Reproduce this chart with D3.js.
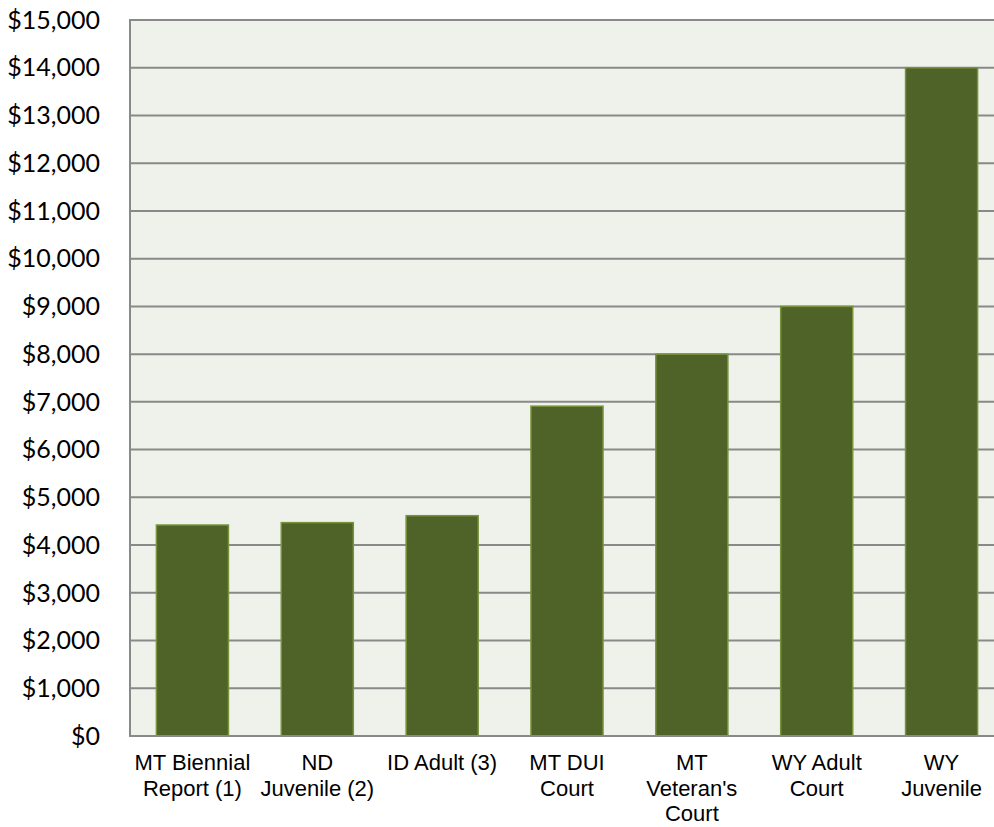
<!DOCTYPE html>
<html><head><meta charset="utf-8">
<script src="https://cdn.jsdelivr.net/npm/d3@7"></script>
<style>body{margin:0;background:#fff}</style>
</head><body>
<script>
const categories = [["MT Biennial","Report (1)"],["ND","Juvenile (2)"],["ID Adult (3)"],["MT DUI","Court"],["MT","Veteran's","Court"],["WY Adult","Court"],["WY","Juvenile"]];
const values = [4420, 4470, 4615, 6910, 8000, 9000, 14000];
const yTicks = [0,1000,2000,3000,4000,5000,6000,7000,8000,9000,10000,11000,12000,13000,14000,15000];

const W = 994, H = 827;
const m = {left:130, top:20, right:1004, bottom:736};
const svg = d3.select("body").append("svg").attr("width",W).attr("height",H);

const x = d3.scaleBand().domain(d3.range(values.length)).range([m.left, m.right]).paddingInner(0.423).paddingOuter(0.2115);
const y = d3.scaleLinear().domain([0,15000]).range([m.bottom, m.top]);

svg.append("rect").attr("x",m.left).attr("y",m.top).attr("width",m.right-m.left).attr("height",m.bottom-m.top).attr("fill","#eff2ea");

svg.append("g").selectAll("line").data(yTicks).join("line")
  .attr("x1",m.left).attr("x2",m.right).attr("y1",d=>y(d)).attr("y2",d=>y(d))
  .attr("stroke","#898989").attr("stroke-width",2);
svg.append("line").attr("x1",m.left).attr("x2",m.left).attr("y1",m.top-1).attr("y2",m.bottom+1).attr("stroke","#898989").attr("stroke-width",2);

const fmt = d3.format(",");
svg.append("g").selectAll("text").data(yTicks).join("text")
  .attr("x",100).attr("y",d=>y(d)).attr("dy","0.35em").attr("text-anchor","end")
  .attr("font-family","Lato, sans-serif").attr("font-size",25).attr("fill","#000")
  .text(d=>"$"+fmt(d));

svg.append("g").selectAll("rect").data(values).join("rect")
  .attr("x",(d,i)=>x(i)).attr("width",x.bandwidth())
  .attr("y",d=>y(d)).attr("height",d=>y(0)-y(d))
  .attr("fill","#4f6228").attr("stroke","#77933c").attr("stroke-width",1.5);

svg.append("line").attr("x1",m.left).attr("x2",m.right).attr("y1",m.bottom).attr("y2",m.bottom).attr("stroke","#898989").attr("stroke-width",2);

const lab = svg.append("g").selectAll("text").data(categories).join("text")
  .attr("x",(d,i)=>x(i)+x.bandwidth()/2).attr("y",770)
  .attr("text-anchor","middle").attr("font-family","'Liberation Sans', Arial, sans-serif").attr("font-size",22).attr("fill","#000");
lab.selectAll("tspan").data(d=>d).join("tspan")
  .attr("x",function(){return this.parentNode.getAttribute("x");})
  .attr("dy",(d,i)=>i===0?0:25.5).text(d=>d);
</script>
</body></html>
